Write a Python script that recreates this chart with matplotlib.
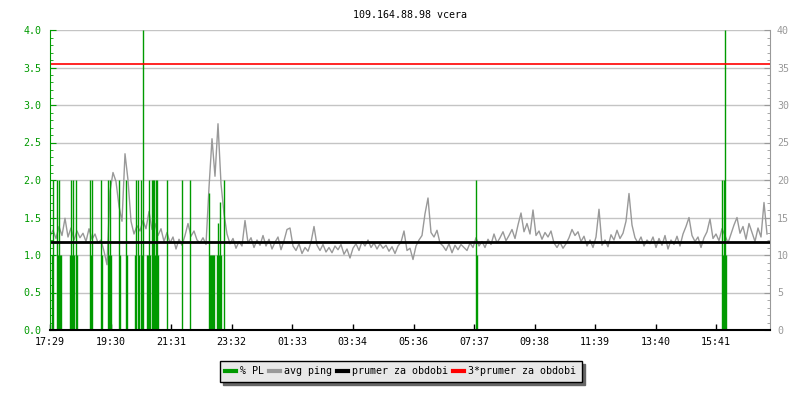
import numpy as np
import matplotlib
matplotlib.use('Agg')
import matplotlib.pyplot as plt
from matplotlib.lines import Line2D
from matplotlib.ticker import MultipleLocator
from matplotlib import transforms

plt.rcParams['font.family'] = 'DejaVu Sans Mono'
plt.rcParams['font.size'] = 7.2

title = '109.164.88.98 vcera'
start = '17:29'
tick_labels = ['17:29', '19:30', '21:31', '23:32', '01:33', '03:34',
               '05:36', '07:37', '09:38', '11:39', '13:40', '15:41']

# avg ping [ms], one sample every 6 minutes from 17:29
step_min = 6
ping = [12.5, 13.3, 12.2, 13.8, 12.6, 14.9, 12.4, 13.6, 12.0, 13.2,
        12.3, 12.9, 11.8, 13.5, 12.1, 12.8, 11.6, 12.0, 10.5, 8.7,
        18.5, 21.0, 19.8, 16.5, 14.5, 23.5, 20.0, 14.5, 12.8, 13.9,
        13.2, 14.6, 13.5, 15.8, 13.4, 14.2, 12.6, 13.5, 11.8, 13.0,
        11.6, 12.4, 10.8, 12.1, 11.3, 12.6, 14.2, 12.5, 13.2, 12.0,
        11.6, 12.3, 11.4, 19.0, 25.5, 20.5, 27.5, 19.5, 15.5, 12.8,
        11.5, 12.2, 10.9, 11.8, 11.2, 14.6, 11.6, 12.3, 11.0, 12.0,
        11.3, 12.6, 11.2, 12.1, 10.8, 11.7, 12.4, 10.7, 11.9, 13.4,
        13.6, 11.2, 10.6, 11.5, 10.2, 11.0, 10.5, 11.7, 13.8, 11.3,
        10.6, 11.4, 10.4, 11.0, 10.3, 11.2, 10.7, 11.4, 10.1, 10.8,
        9.6, 10.9, 11.5, 10.6, 11.8, 11.2, 12.0, 11.0, 11.6, 10.8,
        11.5, 10.9, 11.3, 10.5, 11.1, 10.2, 11.2, 11.7, 13.2, 10.6,
        10.9, 9.4, 11.2, 12.0, 12.6, 15.5, 17.6, 13.0, 12.4, 13.3,
        11.6, 11.2, 10.6, 11.5, 10.3, 11.3, 10.7, 11.4, 11.0, 10.6,
        11.6, 11.0, 12.3, 11.2, 11.8, 11.0, 12.1, 11.4, 12.8, 11.6,
        12.3, 13.1, 11.9, 12.6, 13.4, 12.2, 14.0, 15.6, 13.1, 14.2,
        12.8, 16.0, 12.6, 13.2, 12.1, 13.0, 12.4, 13.2, 11.6, 11.0,
        11.7, 10.9, 11.5, 12.3, 13.4, 12.6, 13.1, 11.8, 12.5, 11.2,
        12.0, 11.0, 12.4, 16.1, 11.3, 12.0, 11.1, 12.7, 12.0, 13.3,
        12.2, 12.9, 14.5, 18.2, 14.0, 12.3, 11.6, 12.4, 11.2, 12.0,
        11.5, 12.4, 11.0, 12.2, 11.3, 12.6, 10.8, 12.0, 11.4, 12.5,
        11.2, 12.8, 13.8, 15.0, 12.6, 11.8, 12.4, 11.0, 12.3, 13.1,
        14.8, 12.2, 12.8, 11.9, 13.5, 12.6, 11.6, 12.8, 14.0, 15.0,
        12.9, 13.8, 12.1, 14.2, 13.0, 11.8, 13.6, 12.4, 17.0, 12.8]

# packet loss events: minute after 17:29, % PL
pl_min = [4, 6, 14, 16, 18, 20, 22, 40, 42, 44, 46, 48, 52, 54,
          80, 82, 84, 102, 104, 116, 118, 120, 122, 138, 140, 152, 154,
          170, 172, 176, 178, 182, 184, 186,
          194, 196, 198, 200, 204, 206, 208, 210, 212, 214, 216,
          234, 264, 280,
          318, 320, 322, 324, 326, 328, 334, 336, 338, 340, 342, 348,
          852, 854, 1344, 1346, 1348, 1350, 1352]
pl_val = [1.0, 2.0, 2.0, 1.0, 2.0, 1.0, 1.0, 1.0, 2.0, 1.0, 2.0, 1.0, 2.0, 1.0,
          2.0, 1.0, 2.0, 2.0, 1.0, 2.0, 1.0, 2.0, 1.0, 2.0, 1.0, 2.0, 1.0,
          1.0, 2.0, 2.0, 1.0, 2.0, 1.0, 4.0,
          1.0, 1.0, 2.0, 1.0, 2.0, 2.0, 2.0, 1.0, 2.0, 2.0, 1.0,
          2.0, 2.0, 2.0,
          1.83, 1.0, 1.0, 1.0, 1.0, 1.0, 1.0, 1.43, 1.0, 1.71, 1.0, 2.0,
          2.0, 1.0, 2.0, 1.0, 2.0, 4.0, 1.0]

prumer = 11.8  # ms


def to_min(label):
    h, m = map(int, label.split(':'))
    sh, sm = map(int, start.split(':'))
    d = (h * 60 + m) - (sh * 60 + sm)
    return d if d >= 0 else d + 1440


green = '#009a00'
grey = '#999999'

fig = plt.figure(figsize=(8, 4), dpi=100)
ax = fig.add_axes([0.0625, 0.175, 0.9, 0.75])
ax2 = ax.twinx()
ax.set_zorder(ax2.get_zorder() + 1)
ax.patch.set_visible(False)

t = np.arange(len(ping)) * step_min
ax2.plot(t, ping, color=grey, lw=1.0)
ax2.set_ylim(0, 40)

ax.vlines(pl_min, 0, pl_val, color=green, lw=1.0)
ax.set_ylim(0, 4)
ax.set_xlim(0, 1440)

tr = transforms.blended_transform_factory(ax.transAxes, ax2.transData)
ax.plot([0, 1], [prumer, prumer], color='black', lw=2.0, transform=tr)
ax.plot([0, 1], [3 * prumer, 3 * prumer], color='#ff0000', lw=1.2, transform=tr)

# grid
for v in np.arange(0.5, 4.01, 0.5):
    ax2.axhline(v * 10, color='#c4c4c4', lw=1.0, zorder=0)

ax.set_xticks([to_min(s) for s in tick_labels])
ax.set_xticklabels(tick_labels)
ax.yaxis.set_major_locator(MultipleLocator(0.5))
ax.yaxis.set_minor_locator(MultipleLocator(0.1))
ax.yaxis.set_major_formatter(plt.FormatStrFormatter('%.1f'))
ax2.yaxis.set_major_locator(MultipleLocator(5))
ax2.yaxis.set_minor_locator(MultipleLocator(1))

ax.tick_params(axis='x', direction='in', length=4, width=1, color='black', pad=5)
ax.tick_params(axis='y', which='major', direction='in', length=4, color=green,
               labelcolor=green, pad=6)
ax.tick_params(axis='y', which='minor', direction='in', length=2.5, color=green)
ax2.tick_params(axis='y', which='major', direction='in', length=4, color=grey,
                labelcolor=grey, pad=5)
ax2.tick_params(axis='y', which='minor', direction='in', length=2.5, color=grey)

for a in (ax, ax2):
    a.spines['top'].set_visible(False)
ax.spines['right'].set_visible(False)
ax2.spines['left'].set_visible(False)
ax2.spines['bottom'].set_visible(False)
ax.spines['left'].set_color(green)
ax.spines['bottom'].set_linewidth(1.5)
ax2.spines['right'].set_color(grey)

ax.set_title(title, fontsize=7.2, pad=9)

handles = [Line2D([], [], color=green, lw=3),
           Line2D([], [], color=grey, lw=3),
           Line2D([], [], color='black', lw=3),
           Line2D([], [], color='#ff0000', lw=3)]
labels = ['% PL', 'avg ping', 'prumer za obdobi', '3*prumer za obdobi']
leg = fig.legend(handles, labels, loc='center', bbox_to_anchor=(0.501, 0.0725),
                 ncol=4, fancybox=False, handlelength=1.1, handletextpad=0.4,
                 columnspacing=0.5, borderpad=0.55, fontsize=7.2,
                 facecolor='#e8e8e8', edgecolor='black', framealpha=1,
                 shadow={'ox': 2.2, 'oy': -2.2, 'color': '#666666', 'alpha': 1})
leg.get_frame().set_linewidth(1.0)

fig.savefig('out.png', dpi=100)
